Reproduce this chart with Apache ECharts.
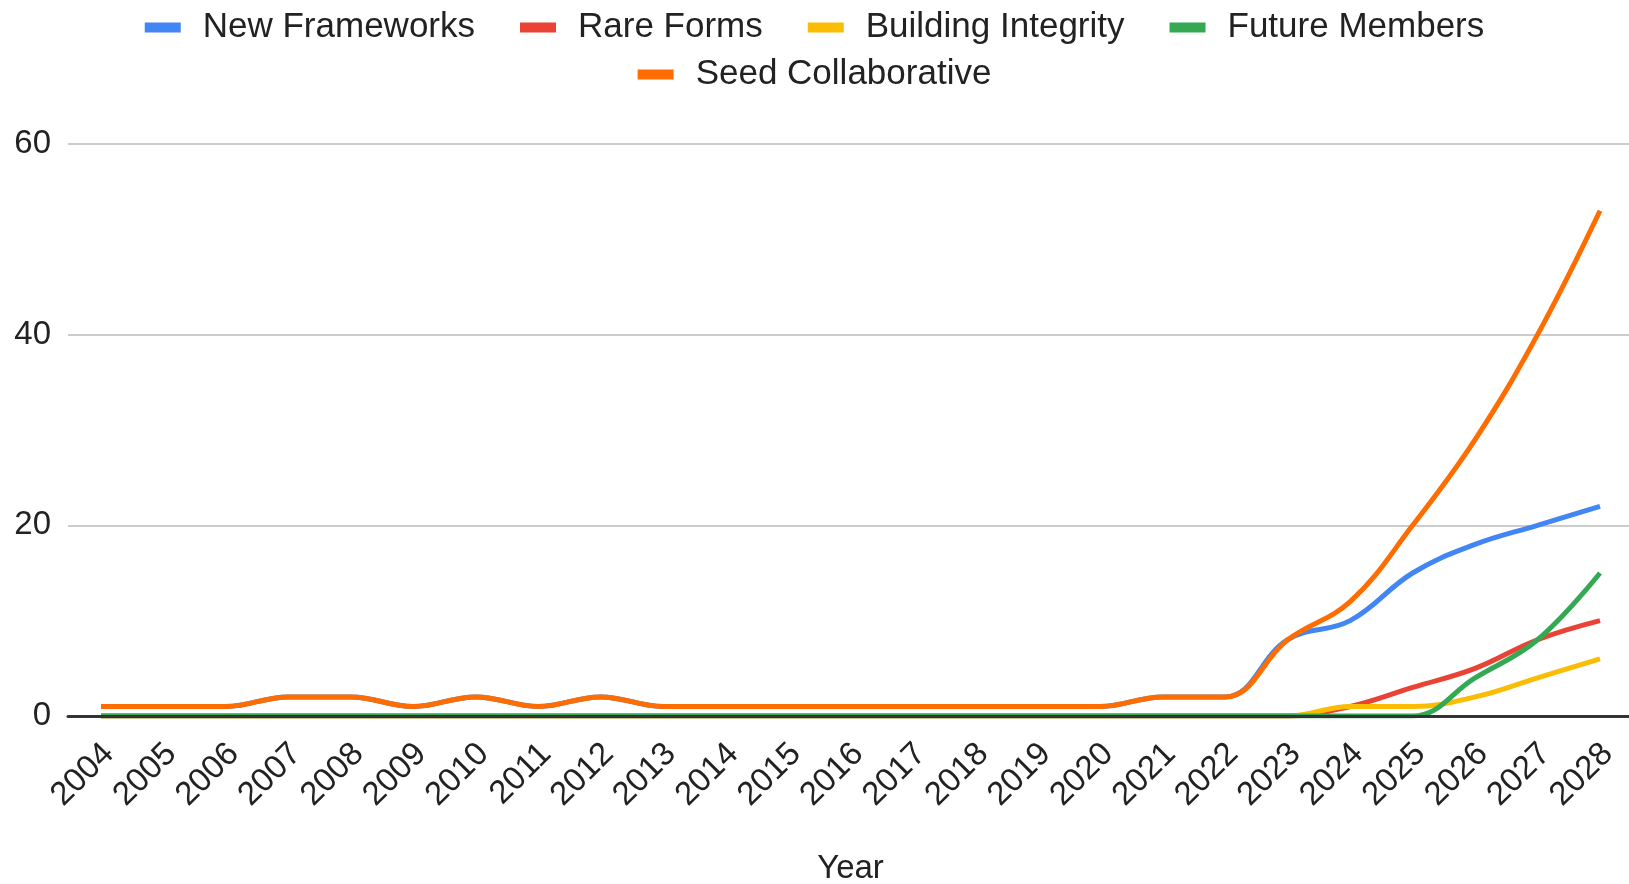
<!DOCTYPE html>
<html>
<head>
<meta charset="utf-8">
<script src="https://cdn.jsdelivr.net/npm/echarts@6/dist/echarts.min.js"></script>
<style>
html,body{margin:0;padding:0;background:#fff;}
#chart{width:1629px;height:884px;}
</style>
</head>
<body>
<div id="chart"></div>
<script>
const years = ['2004','2005','2006','2007','2008','2009','2010','2011','2012','2013','2014','2015','2016','2017','2018','2019','2020','2021','2022','2023','2024','2025','2026','2027','2028'];
const newFrameworks     = [1,1,1,2,2,1,2,1,2,1,1,1,1,1,1,1,1,2,2,8,10,15,18,20,22];
const rareForms         = [0,0,0,0,0,0,0,0,0,0,0,0,0,0,0,0,0,0,0,0,1,3,5,8,10];
const buildingIntegrity = [0,0,0,0,0,0,0,0,0,0,0,0,0,0,0,0,0,0,0,0,1,1,2,4,6];
const futureMembers     = [0,0,0,0,0,0,0,0,0,0,0,0,0,0,0,0,0,0,0,0,0,0,4,8,15];
const seedCollaborative = [1,1,1,2,2,1,2,1,2,1,1,1,1,1,1,1,1,2,2,8,12,20,29,40,53];
const yTicks = [0,20,40,60];

const seriesNames = ['New Frameworks','Rare Forms','Building Integrity','Future Members','Seed Collaborative'];
const seriesData = [newFrameworks, rareForms, buildingIntegrity, futureMembers, seedCollaborative];
const colors = ['#4285F4','#EA4335','#FBBC04','#34A853','#FF6D01'];

const FONT = '"Liberation Sans", Arial, sans-serif';
const chart = echarts.init(document.getElementById('chart'));

const legendCommon = {
  left: 'center',
  orient: 'horizontal',
  icon: 'rect',
  itemWidth: 36,
  itemHeight: 10,
  itemGap: 45,
  textStyle: {fontFamily: FONT, fontSize: 35, color: '#222', padding: [0,0,0,17]}
};

chart.setOption({
  animation: false,
  color: colors,
  legend: [
    Object.assign({}, legendCommon, {top: 5, data: seriesNames.slice(0,4)}),
    Object.assign({}, legendCommon, {top: 52, data: seriesNames.slice(4)})
  ],
  grid: [
    {left: 101, right: 29, top: 144, bottom: 168, containLabel: false, outerBoundsMode: 'none'},
    {left: 68, right: 0, top: 144, bottom: 168, containLabel: false, outerBoundsMode: 'none'}
  ],
  xAxis: [
    {
      type: 'category', gridIndex: 0, data: years, boundaryGap: false,
      axisLine: {show: false}, axisTick: {show: false},
      axisLabel: {rotate: 45, interval: 0, margin: 25, verticalAlign: 'top', lineHeight: 22,
                  fontFamily: FONT, fontSize: 33, color: '#222'},
      name: 'Year', nameLocation: 'middle', nameGap: 136,
      nameTextStyle: {fontFamily: FONT, fontSize: 33, color: '#222'}
    },
    {
      type: 'value', gridIndex: 1, min: 0, max: 1, show: true, z: 20,
      axisLine: {show: true, onZero: false, lineStyle: {color: '#333', width: 3}},
      axisTick: {show: false}, axisLabel: {show: false}, splitLine: {show: false}
    }
  ],
  yAxis: [
    {
      type: 'value', gridIndex: 0, min: yTicks[0], max: yTicks[yTicks.length-1], interval: 20,
      axisLine: {show: false}, axisTick: {show: false}, axisLabel: {show: false}, splitLine: {show: false}
    },
    {
      type: 'value', gridIndex: 1, min: yTicks[0], max: yTicks[yTicks.length-1], interval: 20,
      axisLine: {show: false}, axisTick: {show: false},
      axisLabel: {margin: 17, fontFamily: FONT, fontSize: 33, color: '#222'},
      splitLine: {show: true, lineStyle: {color: '#cccccc', width: 2}}
    }
  ],
  series: seriesNames.map((name, i) => ({
    name: name,
    type: 'line',
    xAxisIndex: 0,
    yAxisIndex: 0,
    data: seriesData[i],
    smooth: 0.4,
    showSymbol: false,
    symbol: 'none',
    lineStyle: {width: 5, color: colors[i]},
    itemStyle: {color: colors[i]},
    z: 3 + i
  }))
});
</script>
</body>
</html>
